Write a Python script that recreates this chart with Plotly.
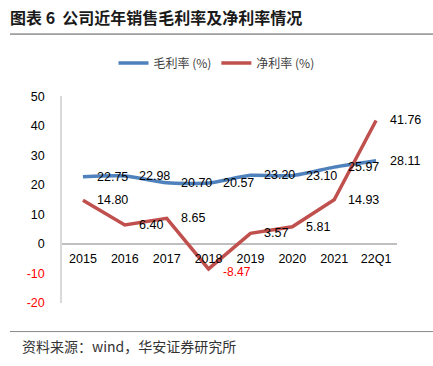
import plotly.graph_objects as go

categories = ["2015", "2016", "2017", "2018", "2019", "2020", "2021", "22Q1"]
gross_margin = [22.75, 22.98, 20.70, 20.57, 23.20, 23.10, 25.97, 28.11]
net_margin = [14.80, 6.40, 8.65, -8.47, 3.57, 5.81, 14.93, 41.76]
y_ticks = [-20, -10, 0, 10, 20, 30, 40, 50]

W, H = 433, 366
L, R, T, B = 62, 36, 93, 63
PW, PH = W - L - R, H - T - B

def px_x(px):
    return (px - L) / PW

def px_y(py):
    return (H - B - py) / PH

FONT = "Liberation Sans, Arial, sans-serif"
CJK = "Noto Sans CJK SC, sans-serif"
BLUE = "#4F81BD"
RED = "#C0504D"

fig = go.Figure()
fig.add_trace(go.Scatter(
    x=categories, y=gross_margin, mode="lines", name="毛利率 (%)",
    line=dict(color=BLUE, width=3.5, shape="spline", smoothing=0.6),
    hoverinfo="skip"))
fig.add_trace(go.Scatter(
    x=categories, y=net_margin, mode="lines", name="净利率 (%)",
    line=dict(color=RED, width=3.5),
    hoverinfo="skip"))

annotations = []
for i, v in enumerate(gross_margin):
    annotations.append(dict(x=i, y=v, xref="x", yref="y", text=f"{v:.2f}",
                            showarrow=False, xanchor="left", yanchor="middle",
                            xshift=12, font=dict(family=FONT, size=12.5, color="#000000")))
for i, v in enumerate(net_margin):
    neg = v < 0
    annotations.append(dict(x=i, y=v, xref="x", yref="y", text=f"{v:.2f}",
                            showarrow=False, xanchor="left", yanchor="middle",
                            xshift=12, yshift=-3 if neg else 0,
                            font=dict(family=FONT, size=12 if neg else 12.5,
                                      color="#FF0000" if neg else "#000000")))

annotations.append(dict(xref="paper", yref="paper", x=px_x(20), y=px_y(347),
                        text="资料来源：wind，华安证券研究所", showarrow=False,
                        xanchor="left", yanchor="middle",
                        font=dict(family=CJK, size=14, color="#333333")))

tick_text = [f"<span style='color:#FF0000'>{t}</span>" if t < 0 else str(t) for t in y_ticks]

fig.update_layout(
    width=W, height=H,
    margin=dict(l=L, r=R, t=T, b=B),
    paper_bgcolor="white", plot_bgcolor="white",
    title=dict(text="<b>图表 6  公司近年销售毛利率及净利率情况</b>",
               xref="container", yref="container", x=10 / W, y=1 - 18 / H,
               xanchor="left", yanchor="middle",
               font=dict(family=CJK, size=16, color="#1a1a1a")),
    legend=dict(orientation="h", xref="container", yref="container",
                x=0.5, y=1 - 63 / H, xanchor="center", yanchor="middle",
                font=dict(family=CJK, size=12, color="#404040"),
                itemwidth=30, bgcolor="rgba(0,0,0,0)"),
    xaxis=dict(type="category", range=[-0.5, 7.5], anchor="free",
               position=20 / 70, showline=False, showgrid=False, zeroline=False,
               ticks="", ticklabelstandoff=6,
               tickfont=dict(family=FONT, size=12.5, color="#000000")),
    yaxis=dict(range=[-20, 50], tickvals=y_ticks, ticktext=tick_text,
               showgrid=False, showline=True, linecolor="#D9D9D9", linewidth=1.5,
               zeroline=True, zerolinecolor="#BFBFBF", zerolinewidth=1.5,
               ticks="", ticklabelstandoff=13,
               tickfont=dict(family=FONT, size=12.5, color="#000000")),
    annotations=annotations,
    shapes=[
        dict(type="line", xref="paper", yref="paper", x0=px_x(10), x1=px_x(433),
             y0=px_y(30), y1=px_y(30), line=dict(color="#555555", width=1)),
        dict(type="line", xref="paper", yref="paper", x0=px_x(10), x1=px_x(433),
             y0=px_y(332), y1=px_y(332), line=dict(color="#888888", width=1)),
    ],
    showlegend=True,
)

fig.write_html("out.html", config={"displayModeBar": False},
               post_script="document.body.style.margin='0';")
